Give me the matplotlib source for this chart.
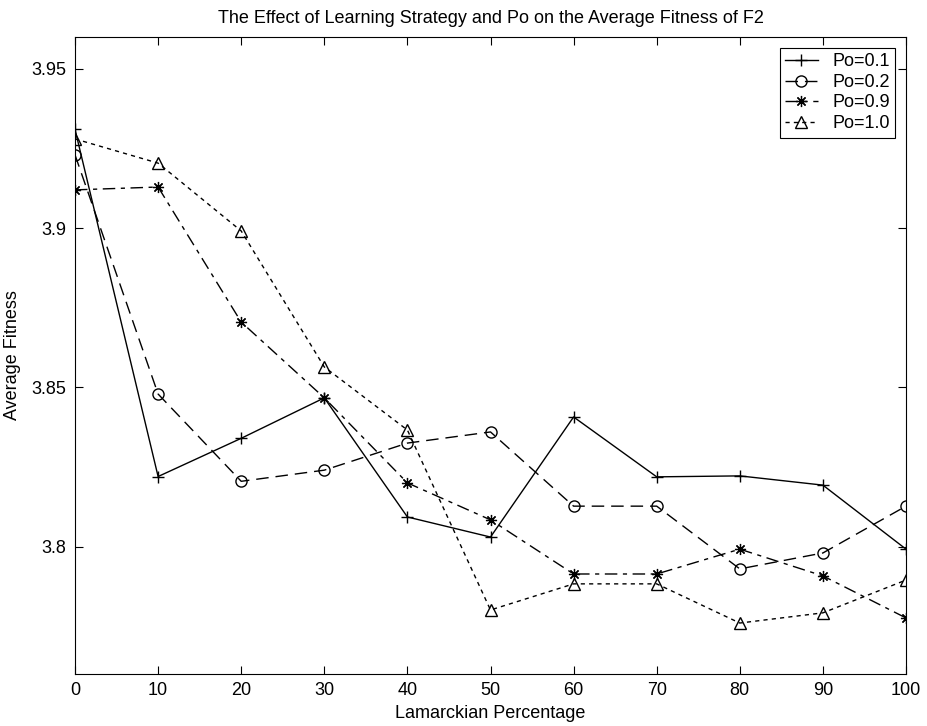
import numpy as np
from matplotlib import pyplot as plt

plt.rcParams['font.family'] = ['Liberation Sans', 'DejaVu Sans']

# Lamarckian percentage
lamarck = [0, 10, 20, 30, 40, 50, 60, 70, 80, 90, 100]

# average fitness for each Po
po_01 = [3.931, 3.822, 3.834, 3.8467, 3.8093, 3.803, 3.8407, 3.8219, 3.8222, 3.8193, 3.7992]
po_02 = [3.923, 3.8479, 3.8205, 3.824, 3.8325, 3.836, 3.8127, 3.8127, 3.793, 3.798, 3.8127]
po_09 = [3.912, 3.9129, 3.8705, 3.8467, 3.820, 3.8084, 3.7914, 3.7914, 3.7992, 3.7908, 3.7776]
po_10 = [3.928, 3.9204, 3.8991, 3.8564, 3.8366, 3.7801, 3.7883, 3.7883, 3.776, 3.7792, 3.7895]

series_labels = ['Po=0.1', 'Po=0.2', 'Po=0.9', 'Po=1.0']

y_ticks = [3.8, 3.85, 3.9, 3.95]
y_tick_labels = ['3.8', '3.85', '3.9', '3.95']

fig = plt.figure(figsize=(9.27, 7.26), dpi=100, facecolor='w')
ax = fig.add_axes([75/927, 1-674/726, 831/927, 637/726])

ax.plot(lamarck, po_01, color='k', lw=1, linestyle='-', marker='+',
        markersize=9, label=series_labels[0])
ax.plot(lamarck, po_02, color='k', lw=1, linestyle=(0, (9, 5)), marker='o',
        markersize=8, markerfacecolor='none', label=series_labels[1])
# matlab style asterisk marker
ax.plot(lamarck, po_09, color='k', lw=1, linestyle=(0, (9, 4, 3, 4)), marker=(8, 2, 0),
        markersize=8, markeredgewidth=0.9, label=series_labels[2])
ax.plot(lamarck, po_10, color='k', lw=1, linestyle=(0, (3, 3)), marker='^',
        markersize=8, markerfacecolor='none', label=series_labels[3])

ax.set_xlim(0, 100)
ax.set_ylim(3.76, 3.96)
ax.set_xticks(lamarck)
ax.set_yticks(y_ticks)
ax.set_yticklabels(y_tick_labels)
ax.tick_params(direction='in', top=True, right=True, length=6, width=0.8,
               labelsize=13, pad=6)
for s in ax.spines.values():
    s.set_linewidth(0.8)

ax.set_title('The Effect of Learning Strategy and Po on the Average Fitness of F2',
             fontsize=13, pad=10)
ax.set_xlabel('Lamarckian Percentage', fontsize=13, labelpad=4)
ax.set_ylabel('Average Fitness', fontsize=13, labelpad=8)

leg = ax.legend(loc='upper right', fontsize=13, fancybox=False, edgecolor='k',
                framealpha=1, borderaxespad=0.6, handlelength=1.8,
                handletextpad=0.8, labelspacing=0.2, borderpad=0.3)
leg.get_frame().set_linewidth(0.8)

plt.savefig('out.png', dpi=100)
